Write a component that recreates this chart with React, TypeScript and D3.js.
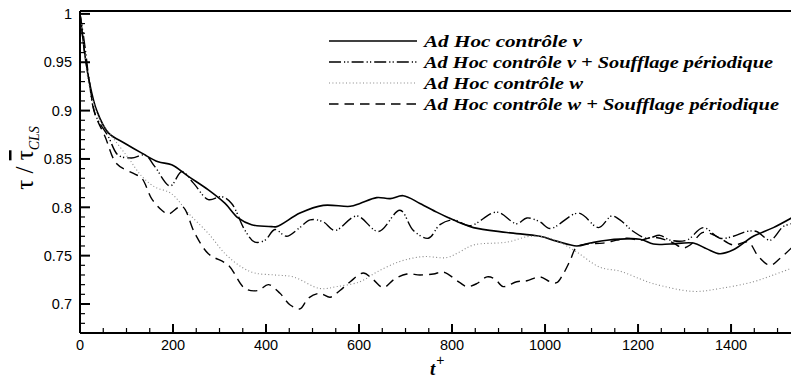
import React from 'react'
import * as d3 from 'd3'

// t+ samples and tau ratio for each run
const tV = [0, 5, 11, 20, 36, 61, 97, 133, 168, 197, 233, 276, 312, 340, 369, 412, 423, 473, 523, 581, 602, 638, 667, 695, 731, 767, 789, 817, 846, 918, 989, 1025, 1068, 1097, 1133, 1204, 1233, 1269, 1319, 1348, 1376, 1405, 1448, 1491, 1530]
const tauV = [1.0, 0.98, 0.956, 0.93, 0.9, 0.877, 0.866, 0.856, 0.847, 0.844, 0.832, 0.818, 0.804, 0.789, 0.782, 0.78, 0.78, 0.794, 0.802, 0.801, 0.804, 0.81, 0.809, 0.812, 0.804, 0.795, 0.79, 0.784, 0.779, 0.774, 0.77, 0.765, 0.76, 0.763, 0.766, 0.767, 0.762, 0.762, 0.763, 0.757, 0.752, 0.756, 0.77, 0.779, 0.789]

const tVS = [0, 5, 11, 20, 32, 61, 82, 111, 140, 161, 194, 219, 244, 276, 305, 326, 355, 376, 398, 419, 444, 470, 495, 523, 548, 595, 642, 688, 717, 749, 774, 803, 839, 896, 939, 961, 989, 1011, 1072, 1115, 1143, 1161, 1190, 1219, 1247, 1269, 1305, 1340, 1376, 1405, 1434, 1455, 1484, 1512, 1530]
const tauVS = [1.0, 0.985, 0.965, 0.93, 0.897, 0.873, 0.854, 0.851, 0.854, 0.842, 0.822, 0.837, 0.825, 0.808, 0.811, 0.804, 0.776, 0.764, 0.766, 0.777, 0.77, 0.778, 0.787, 0.785, 0.776, 0.791, 0.775, 0.797, 0.776, 0.768, 0.782, 0.787, 0.781, 0.795, 0.783, 0.789, 0.785, 0.778, 0.794, 0.779, 0.791, 0.787, 0.775, 0.768, 0.771, 0.766, 0.766, 0.779, 0.768, 0.77, 0.775, 0.775, 0.766, 0.78, 0.783]

const tW = [0, 10, 20, 43, 61, 104, 133, 161, 190, 204, 233, 276, 312, 348, 376, 419, 459, 516, 552, 602, 638, 688, 738, 789, 817, 846, 918, 968, 1011, 1061, 1118, 1161, 1204, 1233, 1319, 1376, 1448, 1491, 1530]
const tauW = [1.0, 0.96, 0.925, 0.89, 0.878, 0.851, 0.832, 0.821, 0.816, 0.811, 0.794, 0.773, 0.752, 0.738, 0.732, 0.73, 0.728, 0.716, 0.718, 0.723, 0.733, 0.744, 0.749, 0.748, 0.754, 0.761, 0.764, 0.77, 0.768, 0.756, 0.738, 0.734, 0.726, 0.721, 0.713, 0.716, 0.723, 0.73, 0.737]

const tWS = [0, 10, 20, 32, 54, 79, 115, 133, 154, 176, 190, 219, 247, 276, 319, 355, 383, 405, 430, 452, 473, 491, 516, 538, 559, 581, 609, 631, 652, 677, 703, 731, 760, 781, 817, 832, 853, 875, 892, 910, 939, 961, 989, 1011, 1025, 1039, 1054, 1068, 1090, 1125, 1154, 1176, 1204, 1233, 1272, 1297, 1312, 1340, 1369, 1405, 1437, 1459, 1484, 1505, 1530]
const tauWS = [1.0, 0.96, 0.93, 0.897, 0.873, 0.845, 0.835, 0.83, 0.809, 0.797, 0.793, 0.801, 0.773, 0.752, 0.74, 0.716, 0.714, 0.72, 0.711, 0.699, 0.695, 0.706, 0.711, 0.707, 0.714, 0.723, 0.732, 0.725, 0.717, 0.726, 0.731, 0.73, 0.731, 0.733, 0.722, 0.718, 0.721, 0.728, 0.726, 0.718, 0.723, 0.724, 0.728, 0.723, 0.722, 0.731, 0.745, 0.759, 0.762, 0.763, 0.766, 0.768, 0.766, 0.769, 0.764, 0.758, 0.761, 0.774, 0.77, 0.761, 0.764, 0.749, 0.74, 0.747, 0.758]

const legendLabels = [
  'Ad Hoc contrôle v',
  'Ad Hoc contrôle v + Soufflage périodique',
  'Ad Hoc contrôle w',
  'Ad Hoc contrôle w + Soufflage périodique',
]
const xTicks = [0, 200, 400, 600, 800, 1000, 1200, 1400]
const yTicks = [0.7, 0.75, 0.8, 0.85, 0.9, 0.95, 1]

const W = 791
const H = 381
const sans = '"Liberation Sans", Arial, sans-serif'
const serif = '"Liberation Serif", "Times New Roman", serif'

export default function App() {
  const x = d3.scaleLinear().domain([0, 1530]).range([80, 791.5])
  const y = d3.scaleLinear().domain([0.67, 1.003]).range([333, 11])

  const line = d3.line<[number, number]>()
    .x(d => x(d[0]))
    .y(d => y(d[1]))
    .curve(d3.curveCatmullRom.alpha(0.5))

  const series = [
    { t: tV, v: tauV, stroke: '#000', width: 1.6, dash: undefined },
    { t: tVS, v: tauVS, stroke: '#000', width: 1.4, dash: '12 3 1.2 2.2 1.2 3' },
    { t: tW, v: tauW, stroke: '#888', width: 1.1, dash: '1 2.4' },
    { t: tWS, v: tauWS, stroke: '#000', width: 1.4, dash: '9.5 6' },
  ]

  const minorX = d3.range(0, 1531, 50).filter(t => t % 200 !== 0)
  const minorY = d3.range(67, 101).map(k => k / 100).filter(v => Math.round(v * 100) % 5 !== 0)

  const [x0, x1] = x.range()
  const [yb, yt] = y.range()

  return (
    <svg width={W} height={H} style={{ position: 'absolute', left: 0, top: 0, background: '#fff' }}>
      <defs>
        <clipPath id="plot">
          <rect x={x0} y={yt} width={x1 - x0} height={yb - yt} />
        </clipPath>
      </defs>
      <rect width={W} height={H} fill="#fff" />

      <g clipPath="url(#plot)">
        {series.map((s, i) => (
          <path
            key={i}
            d={line(s.t.map((t, j) => [t, s.v[j]] as [number, number])) || ''}
            fill="none"
            stroke={s.stroke}
            strokeWidth={s.width}
            strokeDasharray={s.dash}
            strokeLinejoin="round"
          />
        ))}
      </g>

      {/* frame */}
      <line x1={x0} x2={W + 2} y1={yt} y2={yt} stroke="#000" strokeWidth={2} />
      <line x1={x0} x2={W + 2} y1={yb} y2={yb} stroke="#000" strokeWidth={2} />
      <line x1={x0} x2={x0} y1={yt} y2={yb} stroke="#000" strokeWidth={2} />

      {/* x ticks */}
      {xTicks.map(t => (
        <g key={t}>
          <line x1={x(t)} x2={x(t)} y1={yb} y2={yb - 9} stroke="#000" strokeWidth={2} />
          <text x={x(t)} y={yb + 17} textAnchor="middle" fontFamily={sans} fontSize={14.5}>{t}</text>
        </g>
      ))}
      {minorX.map(t => (
        <line key={t} x1={x(t)} x2={x(t)} y1={yb} y2={yb - 5} stroke="#000" strokeWidth={1.2} />
      ))}

      {/* y ticks */}
      {yTicks.map(v => (
        <g key={v}>
          <line x1={x0} x2={x0 + 10} y1={y(v)} y2={y(v)} stroke="#000" strokeWidth={2} />
          <text x={x0 - 8} y={y(v)} dy="0.36em" textAnchor="end" fontFamily={sans} fontSize={14.5}>{v}</text>
        </g>
      ))}
      {minorY.map(v => (
        <line key={v} x1={x0} x2={x0 + 5} y1={y(v)} y2={y(v)} stroke="#000" strokeWidth={1.2} />
      ))}

      {/* axis titles */}
      <text x={430} y={375} fontFamily={serif} fontSize={19} fontWeight="bold" fontStyle="italic">
        t<tspan dx={1} dy={-10} fontSize={14} fontStyle="normal" fontWeight="normal" fontFamily={sans}>+</tspan>
      </text>
      <text transform="translate(33,158) rotate(-90)" textAnchor="middle" fontFamily={serif} fontSize={25}>
        τ / <tspan style={{ textDecoration: 'overline' }}>τ</tspan>
        <tspan dy={6} fontSize={14} fontStyle="italic">CLS</tspan>
      </text>

      {/* legend */}
      {legendLabels.map((lab, i) => {
        const ly = 41 + i * 21
        const s = series[i]
        const widths = [158, 349, 159, 355]
        return (
          <g key={lab}>
            <line x1={329} x2={417} y1={ly} y2={ly} stroke={s.stroke} strokeWidth={s.width}
              strokeDasharray={s.dash} />
            <text x={424} y={ly} dy="0.33em" fontFamily={serif} fontSize={17} fontWeight="bold" fontStyle="italic"
              textLength={widths[i]} lengthAdjust="spacingAndGlyphs">{lab}</text>
          </g>
        )
      })}
    </svg>
  )
}
